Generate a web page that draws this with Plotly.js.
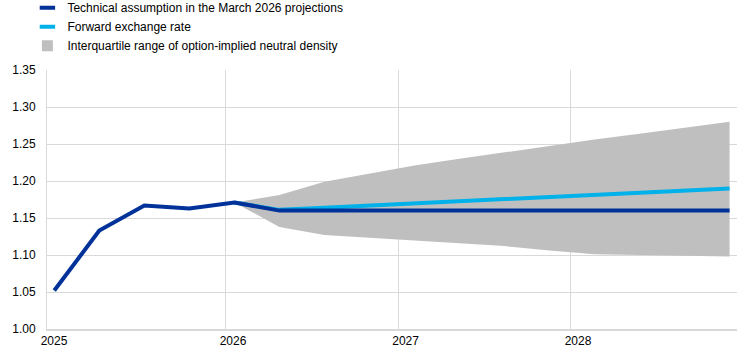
<!DOCTYPE html>
<html>
<head>
<meta charset="utf-8">
<script src="https://cdn.plot.ly/plotly-3.0.1.min.js"></script>
<style>html,body{margin:0;padding:0;background:#fff;}#chart{width:745px;height:355px;}</style>
</head>
<body>
<div id="chart"></div>
<script>
// Quarterly periods
const quarters = ["2025Q1","2025Q2","2025Q3","2025Q4","2026Q1","2026Q2","2026Q3","2026Q4",
                  "2027Q1","2027Q2","2027Q3","2027Q4","2028Q1","2028Q2","2028Q3","2028Q4"];
// USD/EUR exchange rate
const technicalAssumption = [1.052,1.133,1.167,1.163,1.171,1.160,1.160,1.160,1.160,1.160,1.160,1.160,1.160,1.160,1.160,1.160];
const forwardRate = [null,null,null,null,1.171,1.161,1.164,1.167,1.170,1.173,1.175,1.178,1.181,1.184,1.187,1.190];
const bandLower = [null,null,null,null,1.171,1.138,1.127,1.123,1.120,1.116,1.112,1.106,1.101,1.100,1.099,1.098];
const bandUpper = [null,null,null,null,1.171,1.181,1.199,1.210,1.221,1.230,1.239,1.247,1.256,1.264,1.272,1.280];
const yearLabels = ["2025","2026","2027","2028"];
const seriesNames = ["Technical assumption in the March 2026 projections","Forward exchange rate","Interquartile range of option-implied neutral density"];

const xIdx = quarters.map((q,i)=>i);
const darkBlue = "#003299", lightBlue = "#00b1ea", bandGrey = "#bfbfbf";

const traces = [
  {x:xIdx, y:bandLower, type:"scatter", mode:"lines", line:{width:0,color:bandGrey}, showlegend:false, hoverinfo:"skip"},
  {x:xIdx, y:bandUpper, type:"scatter", mode:"lines", line:{width:0,color:bandGrey}, fill:"tonexty", fillcolor:bandGrey, showlegend:false, hoverinfo:"skip"},
  {x:xIdx, y:forwardRate, type:"scatter", mode:"lines", line:{width:4,color:lightBlue}, showlegend:false},
  {x:xIdx, y:technicalAssumption, type:"scatter", mode:"lines", line:{width:4,color:darkBlue}, showlegend:false},
  // legend entries
  {x:[null], y:[null], type:"scatter", mode:"markers", name:seriesNames[0], marker:{symbol:"line-ew-open", size:11, color:darkBlue, line:{width:4,color:darkBlue}}},
  {x:[null], y:[null], type:"scatter", mode:"markers", name:seriesNames[1], marker:{symbol:"line-ew-open", size:11, color:lightBlue, line:{width:4,color:lightBlue}}},
  {x:[null], y:[null], type:"scatter", mode:"markers", name:seriesNames[2], marker:{symbol:"square", size:11, color:bandGrey, line:{width:0}}}
];

// year gridline positions on the quarterly index scale (layout only)
const yearTickPos = [-0.162, 3.814, 7.648, 11.477];

const layout = {
  width:745, height:355,
  margin:{l:46.7, r:8.3, t:70.3, b:25.7, pad:0, autoexpand:false},
  paper_bgcolor:"#fff", plot_bgcolor:"#fff",
  font:{family:"Liberation Sans, Arial, sans-serif", size:12, color:"#000"},
  showlegend:true,
  legend:{x:-0.0284, y:1.2965, xref:"paper", yref:"paper", xanchor:"left", yanchor:"top", traceorder:"normal",
          bgcolor:"rgba(0,0,0,0)", font:{size:12}, tracegroupgap:0, itemclick:false},
  xaxis:{range:[-0.162, 15.165], tickmode:"array", tickvals:yearTickPos, ticktext:yearLabels,
         showgrid:true, gridcolor:"#d9d9d9", gridwidth:1, zeroline:false,
         showline:true, linecolor:"#d9d9d9", linewidth:2, ticks:"", ticklabelshift:7, fixedrange:true},
  yaxis:{range:[1.0,1.35], tickmode:"array", tickvals:[1.00,1.05,1.10,1.15,1.20,1.25,1.30,1.35],
         tickformat:".2f", showgrid:true, gridcolor:"#d9d9d9", gridwidth:1, zeroline:false,
         showline:true, linecolor:"#d9d9d9", linewidth:1, ticks:"", ticklabelstandoff:8, fixedrange:true}
};

Plotly.newPlot("chart", traces, layout, {displayModeBar:false, staticPlot:true});
</script>
</body>
</html>
